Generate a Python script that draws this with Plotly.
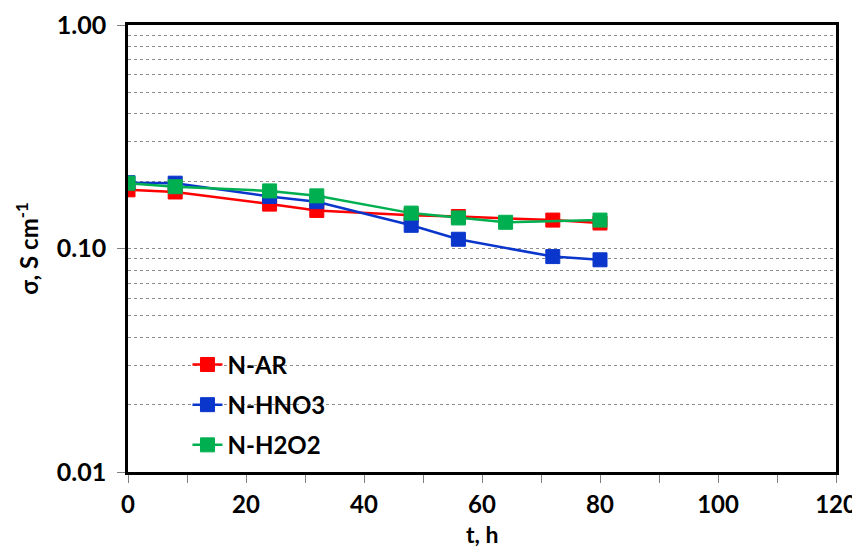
import plotly.graph_objects as go

t_ar = [0, 8, 24, 32, 48, 56, 72, 80]
s_ar = [0.183, 0.179, 0.158, 0.148, 0.141, 0.139, 0.134, 0.130]

t_hno3 = [0, 8, 24, 32, 48, 56, 72, 80]
s_hno3 = [0.197, 0.196, 0.171, 0.162, 0.127, 0.110, 0.092, 0.089]

t_h2o2 = [0, 8, 24, 32, 48, 56, 64, 80]
s_h2o2 = [0.196, 0.189, 0.181, 0.172, 0.144, 0.137, 0.131, 0.134]

series = [
    ("N-AR", t_ar, s_ar, "#FF0000"),
    ("N-HNO3", t_hno3, s_hno3, "#0A36CC"),
    ("N-H2O2", t_h2o2, s_h2o2, "#00B050"),
]

x_ticks = [0, 20, 40, 60, 80, 100, 120]
y_ticks = [0.01, 0.1, 1]
y_ticktext = ["0.01", "0.10", "1.00"]

FONT = "Lato"
fig = go.Figure()
for name, x, y, c in series:
    fig.add_trace(go.Scatter(
        x=x, y=y, name=name, mode="lines+markers", legendgroup=name,
        line=dict(color=c, width=2.5),
        marker=dict(symbol="square", size=14, color=c, line=dict(color=c, width=1)),
    ))

# page body has an 8px margin, so the plot area is offset by 8px to land at 128..836 x 25..472
fig.update_layout(
    width=860, height=548,
    margin=dict(l=120, r=32, t=17, b=84),
    paper_bgcolor="white", plot_bgcolor="white",
    font=dict(family=FONT, color="black"),
    showlegend=True,
    legend=dict(
        x=0.084, y=0.29, xanchor="left", yanchor="top",
        font=dict(family=FONT, size=24, color="black", weight="bold"),
        bgcolor="rgba(0,0,0,0)", tracegroupgap=6, itemwidth=30,
    ),
    annotations=[dict(
        text="t, h", xref="paper", yref="paper", x=0.5, y=-0.138,
        xanchor="center", yanchor="middle", showarrow=False,
        font=dict(family=FONT, size=23, color="black", weight="bold"),
    )],
)

fig.update_xaxes(
    range=[0, 120], tickvals=x_ticks, ticktext=[str(v) for v in x_ticks],
    showline=True, linecolor="black", linewidth=2.5, mirror=True,
    ticks="outside", ticklen=8, tickcolor="#808080", tickwidth=1,
    minor=dict(dtick=10, ticks="outside", ticklen=8, tickcolor="#808080", showgrid=False),
    showgrid=False, zeroline=False, automargin=False,
    tickfont=dict(family=FONT, size=24, weight="bold"),
    ticklabelstandoff=1,
)

fig.update_yaxes(
    type="log", range=[-2, 0], tickvals=y_ticks, ticktext=y_ticktext,
    showline=True, linecolor="black", linewidth=2.5, mirror=True,
    ticks="outside", ticklen=8, tickcolor="#808080", tickwidth=1,
    showgrid=True, gridcolor="#8c8c8c", gridwidth=1, griddash="dot",
    minor=dict(dtick="D1", showgrid=True, gridcolor="#8c8c8c", gridwidth=1, griddash="dot", ticks=""),
    zeroline=False, automargin=False,
    tickfont=dict(family=FONT, size=25, weight="bold"),
    ticklabelstandoff=6,
    title=dict(text="σ, S cm<sup>-1</sup>", font=dict(family=FONT, size=24, weight="bold"), standoff=12),
)

fig.write_html("out.html")
